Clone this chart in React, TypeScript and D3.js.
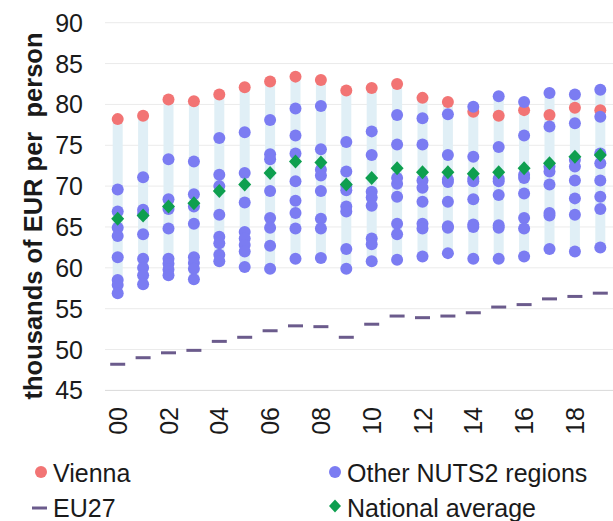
import React from "react";
import * as d3 from "d3";

const years = ["00","01","02","03","04","05","06","07","08","09","10","11","12","13","14","15","16","17","18","19"];
const tickYears = ["00","02","04","06","08","10","12","14","16","18"];
const yTicks = [45, 50, 55, 60, 65, 70, 75, 80, 85, 90];

const vienna = [78.2, 78.6, 80.6, 80.4, 81.2, 82.1, 82.8, 83.4, 83.0, 81.7, 82.0, 82.5, 80.8, 80.3, 79.1, 78.6, 79.3, 78.7, 79.6, 79.3];
const nationalAverage = [66.0, 66.4, 67.5, 67.9, 69.4, 70.2, 71.6, 73.0, 72.9, 70.2, 71.0, 72.2, 71.7, 71.7, 71.5, 71.7, 72.2, 72.8, 73.6, 73.8];
const eu27 = [48.2, 49.0, 49.6, 49.9, 51.0, 51.5, 52.3, 52.9, 52.8, 51.5, 53.1, 54.1, 53.9, 54.1, 54.5, 55.2, 55.5, 56.2, 56.5, 56.9];
const otherRegions = [
  [69.6, 66.9, 64.9, 63.9, 61.3, 58.5, 57.9, 56.9],
  [71.1, 67.1, 66.6, 64.1, 61.1, 60.0, 59.1, 58.0],
  [73.3, 68.4, 67.2, 64.8, 61.1, 60.5, 59.8, 59.1],
  [73.0, 69.0, 67.5, 65.4, 61.3, 60.6, 59.9, 58.6],
  [75.9, 71.4, 70.0, 66.5, 63.8, 63.0, 61.6, 60.8],
  [76.6, 71.6, 68.0, 64.4, 63.6, 62.8, 62.0, 60.1],
  [78.1, 73.9, 73.3, 69.4, 66.1, 64.9, 62.7, 59.9],
  [79.5, 76.2, 74.0, 70.6, 68.2, 66.7, 64.8, 61.1],
  [79.8, 74.5, 72.0, 71.3, 69.4, 66.0, 64.8, 61.2],
  [75.4, 71.8, 70.0, 69.5, 67.5, 66.9, 62.3, 59.9],
  [76.7, 73.8, 69.3, 68.6, 67.6, 63.6, 62.9, 60.8],
  [78.7, 75.1, 71.0, 70.3, 68.7, 65.4, 64.1, 61.0],
  [78.3, 75.1, 70.7, 69.8, 68.1, 65.4, 64.8, 61.4],
  [78.8, 73.8, 70.8, 70.5, 68.1, 65.1, 64.9, 61.8],
  [79.7, 73.6, 70.9, 70.6, 68.4, 65.3, 65.0, 61.1],
  [81.0, 74.8, 70.9, 70.6, 68.9, 65.2, 64.9, 61.1],
  [80.3, 76.2, 71.4, 71.0, 69.1, 66.1, 64.8, 61.4],
  [81.4, 77.3, 72.4, 71.8, 70.2, 66.7, 66.4, 62.3],
  [81.2, 77.7, 73.2, 72.4, 70.7, 68.5, 66.5, 62.0],
  [81.8, 78.5, 74.0, 72.8, 70.7, 68.7, 67.2, 62.5],
];

const legendItems = ["Vienna", "Other NUTS2 regions", "EU27", "National average"];

const W = 613, H = 521;
const FONT = "'Liberation Sans', Arial, Helvetica, sans-serif";
const RED = "#f27474";
const BLUE = "#7b7cf2";
const GREEN = "#0e9f4f";
const PURPLE = "#6b5b8c";
const RANGE = "#e0eff6";

function diamond(cx: number, cy: number, rx: number, ry: number) {
  return `M${cx},${cy - ry}L${cx + rx},${cy}L${cx},${cy + ry}L${cx - rx},${cy}Z`;
}

export default function App() {
  const x = d3.scaleBand<string>().domain(years).range([105, 613]).padding(0);
  const y = d3.scaleLinear().domain([45, 90]).range([390.4, 22.7]);
  const cx = (yr: string) => (x(yr) as number) + x.bandwidth() / 2;

  return (
    <svg width={W} height={H} style={{ position: "absolute", left: 0, top: 0, background: "#fff" }} fontFamily={FONT}>
      {yTicks.map((t) => (
        <line key={t} x1={105} x2={613} y1={y(t)} y2={y(t)} stroke={t === 45 ? "#d9d9d9" : "#ebebeb"} strokeWidth={1} />
      ))}
      {yTicks.map((t) => (
        <text key={t} x={83} y={y(t)} dy="0.36em" textAnchor="end" fontSize={25} fill="#1a1a1a">{t}</text>
      ))}
      <text transform="translate(42,216) rotate(-90)" textAnchor="middle" fontSize={25.5} fontWeight="bold" fill="#1a1a1a" style={{ whiteSpace: "pre" }}>
        {"thousands of EUR per  person"}
      </text>
      {tickYears.map((yr) => (
        <text key={yr} transform={`translate(${cx(yr)},407) rotate(-90)`} textAnchor="end" dy="0.36em" fontSize={25} fill="#1a1a1a">{yr}</text>
      ))}
      {years.map((yr, i) => {
        const all = [vienna[i], ...otherRegions[i]];
        const hi = d3.max(all) as number;
        const lo = d3.min(all) as number;
        return <rect key={yr} x={cx(yr) - 5} width={10} y={y(hi)} height={y(lo) - y(hi)} fill={RANGE} />;
      })}
      {years.map((yr, i) => (
        <line key={yr} x1={cx(yr) - 7.5} x2={cx(yr) + 7.5} y1={y(eu27[i])} y2={y(eu27[i])} stroke={PURPLE} strokeWidth={3} />
      ))}
      {years.map((yr, i) => (
        <circle key={yr} cx={cx(yr)} cy={y(vienna[i])} r={6} fill={RED} />
      ))}
      {years.map((yr, i) =>
        otherRegions[i].map((v, j) => (
          <circle key={yr + "-" + j} cx={cx(yr)} cy={y(v)} r={6} fill={BLUE} />
        ))
      )}
      {years.map((yr, i) => (
        <path key={yr} d={diamond(cx(yr), y(nationalAverage[i]), 6.5, 7)} fill={GREEN} />
      ))}
      <g fontSize={25} fill="#1a1a1a">
        <circle cx={41} cy={472} r={6} fill={RED} />
        <text x={53} y={473} dy="0.36em">{legendItems[0]}</text>
        <circle cx={335} cy={472} r={6} fill={BLUE} />
        <text x={347} y={473} dy="0.36em">{legendItems[1]}</text>
        <line x1={32} x2={47} y1={508} y2={508} stroke={PURPLE} strokeWidth={3} />
        <text x={53} y={508} dy="0.36em">{legendItems[2]}</text>
        <path d={diamond(335, 506, 6, 6.5)} fill={GREEN} />
        <text x={347} y={508} dy="0.36em">{legendItems[3]}</text>
      </g>
    </svg>
  );
}
